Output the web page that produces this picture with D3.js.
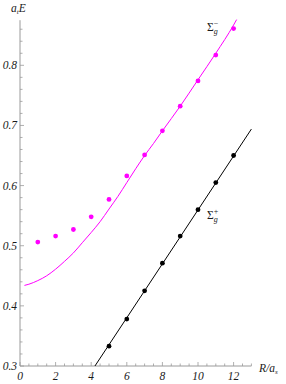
<!DOCTYPE html>
<html><head><meta charset="utf-8">
<script src="https://cdn.jsdelivr.net/npm/d3@7"></script>
<style>body{margin:0;background:#fff}svg{display:block}text{font-family:"Liberation Serif","Times New Roman",Times,serif}</style>
</head><body>
<script>
// ---- data ----
const R = [1,2,3,4,5,6,7,8,9,10,11,12];
const sigmaMinus = [0.506,0.516,0.527,0.548,0.577,0.616,0.651,0.691,0.732,0.774,0.817,0.861];
const blackR = [5,6,7,8,9,10,11,12];
const sigmaPlus = [0.333,0.378,0.425,0.471,0.516,0.560,0.605,0.650];
const curveR = [0.25,0.5,1,1.5,2,2.5,3,3.5,4,4.5,5,5.5,6,6.5,7,7.5,8,9,10,11,12,12.17];
const curveE = [0.434,0.436,0.442,0.450,0.461,0.474,0.488,0.505,0.522,0.540,0.561,0.582,0.605,0.628,0.650,0.670,0.691,0.732,0.776,0.820,0.867,0.876];
const lineR = [4.21,13.0];
const lineE = [0.300,0.694];
const xTicks = [0,2,4,6,8,10,12];
const yTicks = [0.3,0.4,0.5,0.6,0.7,0.8];

const W=286,H=384;
const svg=d3.select("body").append("svg").attr("width",W).attr("height",H);
const x=d3.scaleLinear().domain([0,13]).range([20,251.4]);
const y=d3.scaleLinear().domain([0.3,0.875]).range([366,20.2]);
const axisCol="#9a9a9a";
const txtCol="#1a1a1a";

// axes lines
svg.append("line").attr("x1",x(0)).attr("x2",x(13)).attr("y1",y(0.3)).attr("y2",y(0.3)).attr("stroke",axisCol).attr("stroke-width",1);
svg.append("line").attr("x1",x(0)).attr("x2",x(0)).attr("y1",y(0.3)).attr("y2",y(0.875)).attr("stroke",axisCol).attr("stroke-width",1);

// x ticks
const xMinor=d3.range(0,13.01,0.5);
svg.selectAll(".xt").data(xMinor).enter().append("line")
 .attr("x1",d=>x(d)).attr("x2",d=>x(d))
 .attr("y1",y(0.3)).attr("y2",d=>y(0.3)-(Math.abs(d%2)<1e-6?4:2.5))
 .attr("stroke",axisCol).attr("stroke-width",0.8);
svg.selectAll(".xl").data(xTicks).enter().append("text")
 .attr("x",d=>x(d)).attr("y",380).attr("text-anchor","middle")
 .attr("font-style","italic").attr("font-size",11.5).attr("fill",txtCol)
 .text(d=>d);

// y ticks
const yMinor=d3.range(0.3,0.8751,0.02);
svg.selectAll(".yt").data(yMinor).enter().append("line")
 .attr("x1",x(0)).attr("x2",d=>x(0)+(Math.abs(Math.round(d*100)%10)<1e-6?4:2.5))
 .attr("y1",d=>y(d)).attr("y2",d=>y(d))
 .attr("stroke",axisCol).attr("stroke-width",0.8);
svg.selectAll(".yl").data(yTicks).enter().append("text")
 .attr("x",17).attr("y",d=>y(d)+4).attr("text-anchor","end")
 .attr("font-style","italic").attr("font-size",11.5).attr("fill",txtCol)
 .text(d=>d.toFixed(1));

// axis labels
const yl=svg.append("text").attr("x",11).attr("y",12).attr("font-style","italic").attr("font-size",11.5).attr("fill",txtCol);
yl.append("tspan").text("a");
yl.append("tspan").attr("font-size",7).attr("dy",2).text("t");
yl.append("tspan").attr("dy",-2).text("E");
const xl=svg.append("text").attr("x",259).attr("y",372).attr("font-style","italic").attr("font-size",11.5).attr("fill",txtCol);
xl.append("tspan").text("R/a");
xl.append("tspan").attr("font-size",7).attr("dy",2).text("s");

// curves
const lineGen=d3.line().x(d=>x(d[0])).y(d=>y(d[1])).curve(d3.curveMonotoneX);
svg.append("path").datum(curveR.map((r,i)=>[r,curveE[i]])).attr("d",lineGen)
 .attr("fill","none").attr("stroke","#ff00ff").attr("stroke-width",1);
svg.append("path").datum(lineR.map((r,i)=>[r,lineE[i]])).attr("d",d3.line().x(d=>x(d[0])).y(d=>y(d[1])))
 .attr("fill","none").attr("stroke","#000").attr("stroke-width",1);

// points
svg.selectAll(".pm").data(R).enter().append("circle")
 .attr("cx",d=>x(d)).attr("cy",(d,i)=>y(sigmaMinus[i])).attr("r",2.4).attr("fill","#ff00ff");
svg.selectAll(".pb").data(blackR).enter().append("circle")
 .attr("cx",d=>x(d)).attr("cy",(d,i)=>y(sigmaPlus[i])).attr("r",2.4).attr("fill","#000");

// series labels
function sig(xp,yp,sup){
  const t=svg.append("text").attr("x",xp).attr("y",yp).attr("font-size",11.5).attr("fill",txtCol);
  t.append("tspan").text("Σ");
  t.append("tspan").attr("font-style","italic").attr("font-size",8).attr("dy",3).text("g");
  t.append("tspan").attr("font-size",8).attr("dx",-4).attr("dy",-8).text(sup);
}
sig(207,31,"−");
sig(207,219,"+");
</script>
</body></html>
